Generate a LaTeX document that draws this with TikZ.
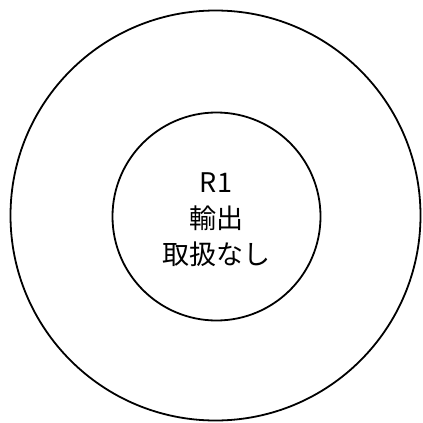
\documentclass[tikz,border=0pt]{standalone}
\usepackage{fontspec}
\newfontfamily\cjk{Noto Sans CJK JP}
\begin{document}
\begin{tikzpicture}[x=1pt,y=-1pt,
  ring/.style={draw=black,line width=1.8pt,circle,inner sep=0pt},
  label/.style={font=\cjk\fontsize{27}{36}\selectfont,align=center,text=black}]
\useasboundingbox (0,0) rectangle (423,423);
\node[ring,minimum size=410pt] (outer) at (215.5,215.5) {};
\node[ring,minimum size=208pt] (inner) at (216.5,216.5) {};
\node[label] (txt) at (216,220) {R1\\輸出\\取扱なし};
\end{tikzpicture}
\end{document}
